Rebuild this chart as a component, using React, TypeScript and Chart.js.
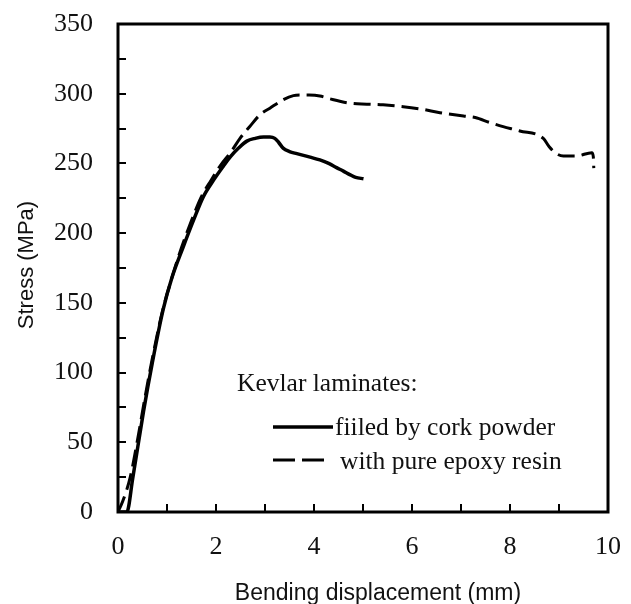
import React, { useEffect, useRef } from "react";
import { Chart, registerables } from "chart.js";

Chart.register(...registerables);

// Bending displacement (mm) / stress (MPa)
const corkX = [0, 0.18, 0.3, 0.52, 0.7, 0.92, 1.1, 1.33, 1.55, 1.74, 1.95, 2.15, 2.3, 2.46, 2.63, 2.8, 2.97, 3.1, 3.2, 3.28, 3.37, 3.5, 3.65, 3.92, 4.12, 4.3, 4.46, 4.6, 4.73, 4.85, 5.01];
const corkY = [0, 0, 24, 72, 107, 145, 168, 190, 210, 226, 238, 248, 255, 261, 266, 268, 269, 269, 268, 265, 261, 258.5, 257, 254.5, 252.5, 250, 247, 244.5, 242, 240, 239];

const epoxyX = [0, 0.1, 0.25, 0.4, 0.55, 0.7, 0.9, 1.1, 1.3, 1.5, 1.7, 1.9, 2.1, 2.3, 2.49, 2.69, 2.9, 3.1, 3.37, 3.58, 3.71, 3.9, 4.12, 4.33, 4.73, 5.08, 5.41, 5.82, 6.2, 6.57, 7.05, 7.29, 7.59, 7.86, 8.2, 8.68, 8.8, 8.95, 9.09, 9.36, 9.67, 9.7, 9.71];
const epoxyY = [0, 8, 25, 52, 82, 110, 143, 168, 190, 209, 226, 238, 249, 258, 268, 276.5, 285, 289.6, 295.6, 298.6, 299, 299, 298.4, 296.3, 293.2, 292.5, 292, 290.7, 288.9, 286.4, 284, 282.9, 279.3, 276.4, 273.3, 268, 262, 257, 255.4, 255.4, 257.7, 254.9, 246.6];

const seriesLabels = ["fiiled by cork powder", "with pure epoxy resin"];
const legendTitle = "Kevlar laminates:";
const xTitle = "Bending displacement (mm)";
const yTitle = "Stress (MPa)";
const xMin = 0, xMax = 10, xStep = 2, xMinorStep = 1;
const yMin = 0, yMax = 350, yStep = 50, yMinorStep = 25;

const SERIF = '"Liberation Serif", "Times New Roman", serif';
const SANS = '"Liberation Sans", Arial, sans-serif';
const TEXT = "#111";

const framePlugin = {
  id: "frame",
  afterDraw(chart: any) {
    const ctx = chart.ctx as CanvasRenderingContext2D;
    const { left, right, top, bottom } = chart.chartArea;
    const xs = chart.scales.x;
    const ys = chart.scales.y;
    ctx.save();
    ctx.strokeStyle = "#000";
    // inward minor/major ticks
    ctx.lineWidth = 2;
    ctx.beginPath();
    for (let v = yMin + yMinorStep; v < yMax; v += yMinorStep) {
      const y = Math.round(ys.getPixelForValue(v));
      ctx.moveTo(left, y);
      ctx.lineTo(left + 8, y);
    }
    for (let v = xMin + xMinorStep; v < xMax; v += xMinorStep) {
      const x = Math.round(xs.getPixelForValue(v));
      ctx.moveTo(x, bottom);
      ctx.lineTo(x, bottom - 8);
    }
    ctx.stroke();
    // frame
    ctx.lineWidth = 3;
    ctx.lineJoin = "miter";
    ctx.strokeRect(left, top, right - left, bottom - top);

    // axis titles
    ctx.fillStyle = TEXT;
    ctx.font = `23px ${SANS}`;
    ctx.textAlign = "center";
    ctx.textBaseline = "alphabetic";
    ctx.fillText(xTitle, 378, 600);
    ctx.save();
    ctx.translate(33, 265);
    ctx.rotate(-Math.PI / 2);
    ctx.font = `22px ${SANS}`;
    ctx.fillText(yTitle, 0, 0);
    ctx.restore();

    // legend
    ctx.textAlign = "left";
    ctx.font = `25.5px ${SERIF}`;
    ctx.fillText(legendTitle, 237, 391);
    const ds = chart.data.datasets;
    const rows = [
      { y: 427, textX: 335, base: 435 },
      { y: 460, textX: 340, base: 469 },
    ];
    ds.forEach((d: any, i: number) => {
      const r = rows[i];
      ctx.save();
      ctx.strokeStyle = "#000";
      ctx.lineWidth = i === 0 ? 3.5 : 3;
      ctx.setLineDash(i === 0 ? [] : [22, 7]);
      ctx.beginPath();
      ctx.moveTo(273, r.y);
      ctx.lineTo(i === 0 ? 333 : 324, r.y);
      ctx.stroke();
      ctx.restore();
      ctx.fillText(d.label, r.textX, r.base);
    });
    ctx.restore();
  },
};

const zeroPad = (s: any) => {
  s.paddingTop = 0;
  s.paddingBottom = 0;
  s.paddingLeft = 0;
  s.paddingRight = 0;
};

export default function App() {
  const ref = useRef<HTMLCanvasElement | null>(null);
  useEffect(() => {
    if (!ref.current) return;
    const chart = new Chart(ref.current, {
      type: "scatter",
      data: {
        datasets: [
          {
            label: seriesLabels[0],
            data: corkX.map((x, i) => ({ x, y: corkY[i] })),
            showLine: true,
            borderColor: "#000",
            borderWidth: 3.5,
            pointRadius: 0,
            cubicInterpolationMode: "monotone",
          },
          {
            label: seriesLabels[1],
            data: epoxyX.map((x, i) => ({ x, y: epoxyY[i] })),
            showLine: true,
            borderColor: "#000",
            borderWidth: 3,
            borderDash: [17, 7],
            pointRadius: 0,
            cubicInterpolationMode: "monotone",
          },
        ],
      },
      options: {
        animation: false,
        responsive: false,
        devicePixelRatio: 1,
        layout: { padding: { top: 24, right: 23, left: 0, bottom: 0 } },
        plugins: { legend: { display: false }, tooltip: { enabled: false } },
        scales: {
          x: {
            type: "linear",
            min: xMin,
            max: xMax,
            grid: { display: false, drawTicks: false },
            border: { display: false },
            ticks: { stepSize: xStep, padding: 20, color: TEXT, font: { family: SERIF, size: 26 } },
            afterFit: (s: any) => { s.height = 92; zeroPad(s); },
          },
          y: {
            type: "linear",
            min: yMin,
            max: yMax,
            grid: { display: false, drawTicks: false },
            border: { display: false },
            ticks: { stepSize: yStep, padding: 25, color: TEXT, font: { family: SERIF, size: 26 } },
            afterFit: (s: any) => { s.width = 118; zeroPad(s); },
          },
        },
      },
      plugins: [framePlugin],
    });
    return () => chart.destroy();
  }, []);
  return (
    <div style={{ position: "fixed", left: 0, top: 0, width: 631, height: 604, background: "#fff" }}>
      <canvas ref={ref} width={631} height={604} style={{ display: "block" }} />
    </div>
  );
}
